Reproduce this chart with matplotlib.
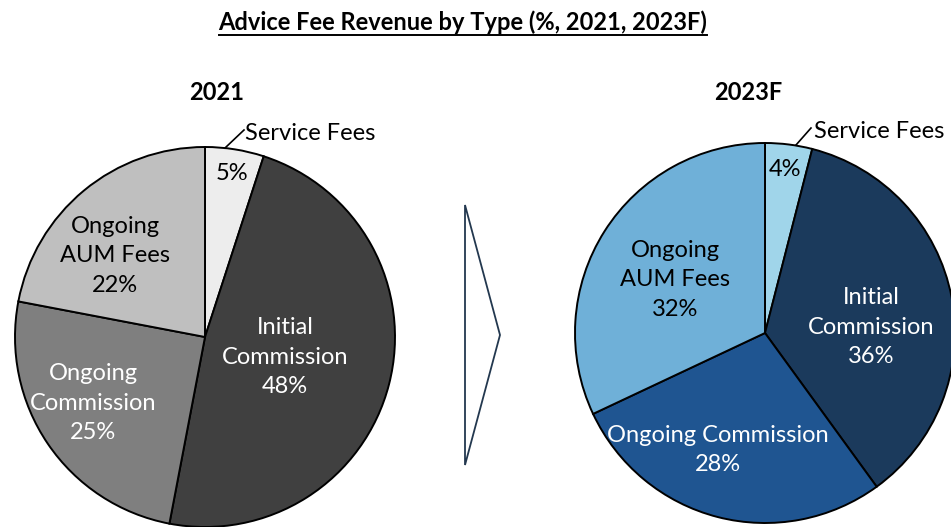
import matplotlib
matplotlib.use("Agg")
import matplotlib.pyplot as plt
from matplotlib.patches import Polygon

plt.rcParams['font.family'] = ['Lato', 'DejaVu Sans']

# data
categories = ["Service Fees", "Initial\nCommission", "Ongoing\nCommission", "Ongoing\nAUM Fees"]
share_2021 = [5, 48, 25, 22]
share_2023 = [4, 36, 28, 32]

colors_2021 = ["#EDEDED", "#404040", "#7F7F7F", "#BFBFBF"]
colors_2023 = ["#A0D5EA", "#1B3A5C", "#1F5591", "#6FB0D8"]
text_2021 = ["black", "white", "white", "black"]
text_2023 = ["black", "white", "white", "black"]

W, H = 951, 527
FS = 17
fig = plt.figure(figsize=(W / 100, H / 100), dpi=100)
ax = fig.add_axes([0, 0, 1, 1])


def draw_pie(values, colors, tcolors, center, label_pos, texts):
    wedges, _ = ax.pie(values, colors=colors, startangle=90, counterclock=False,
                       center=center, radius=190, frame=True,
                       wedgeprops=dict(edgecolor="black", linewidth=1.4))
    for (x, y), txt, c in zip(label_pos, texts, tcolors):
        ax.text(x, H - y, txt, ha="center", va="center", color=c, fontsize=FS,
                linespacing=1.5)
    return wedges


# left pie (2021)
left_texts = ["5%", "Initial\nCommission\n48%", "Ongoing\nCommission\n25%", "Ongoing\nAUM Fees\n22%"]
draw_pie(share_2021, colors_2021, text_2021, (205, H - 337),
         [(232, 173), (285, 357), (93, 403), (115, 256)], left_texts)

# right pie (2023F)
right_texts = ["4%", "Initial\nCommission\n36%", "Ongoing Commission\n28%", "Ongoing\nAUM Fees\n32%"]
draw_pie(share_2023, colors_2023, text_2023, (765, H - 333),
         [(785, 170), (871, 327), (718, 450), (675, 280)], right_texts)

# outside labels for service fees with leader lines
ax.plot([225, 244], [H - 148, H - 130], color="black", lw=1.2)
ax.text(245, H - 134, "Service Fees", ha="left", va="center", fontsize=FS)
ax.plot([796, 811], [H - 145, H - 128], color="black", lw=1.2)
ax.text(814, H - 131, "Service Fees", ha="left", va="center", fontsize=FS)

# year headings
ax.text(217, H - 92, "2021", ha="center", va="center", fontsize=17, fontweight="bold")
ax.text(748, H - 92, "2023F", ha="center", va="center", fontsize=17, fontweight="bold")

# chevron arrow
ax.add_patch(Polygon([(465, H - 205), (500, H - 335), (465, H - 465)], closed=True,
                     fill=False, edgecolor="#23384F", linewidth=1.3))

# title with underline
title = ax.text(463, H - 22, "Advice Fee Revenue by Type (%, 2021, 2023F)", ha="center",
                va="center", fontsize=17, fontweight="bold")

ax.set_xlim(0, W)
ax.set_ylim(0, H)
ax.set_aspect("auto")
ax.axis("off")

fig.canvas.draw()
bb = title.get_window_extent().transformed(ax.transData.inverted())
ax.plot([bb.x0, bb.x1], [bb.y0 - 1, bb.y0 - 1], color="black", lw=1.4)

fig.savefig("out.png", dpi=100)
